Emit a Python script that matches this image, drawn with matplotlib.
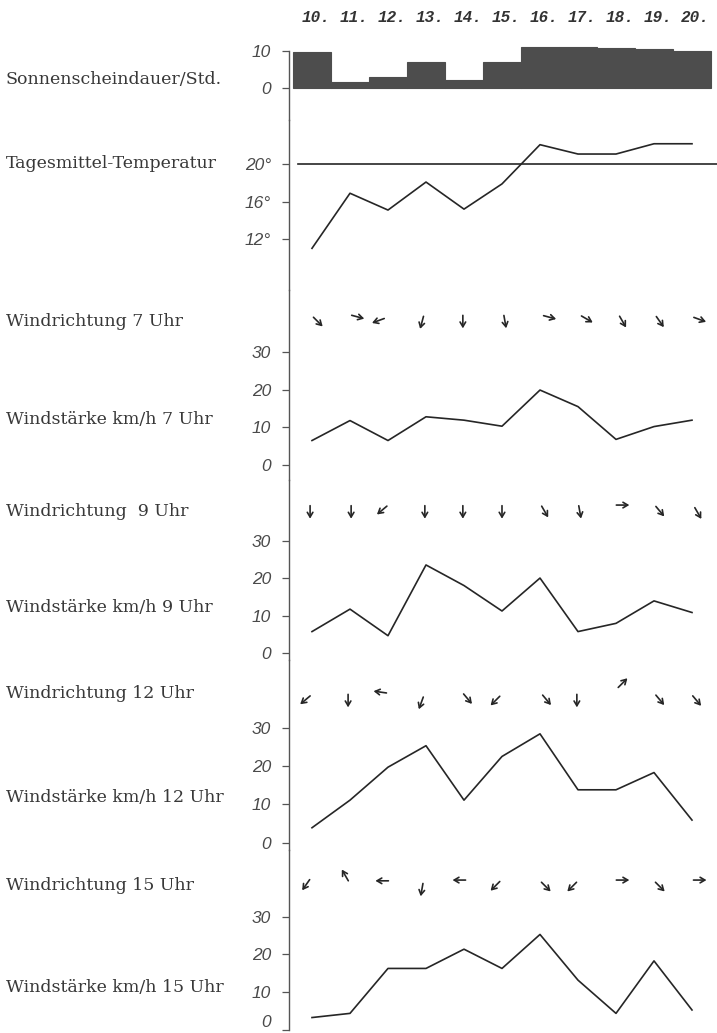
import numpy as np
import matplotlib
matplotlib.use("Agg")
import matplotlib.pyplot as plt
from matplotlib.transforms import ScaledTranslation

# ---------------- data ----------------
days = [10, 11, 12, 13, 14, 15, 16, 17, 18, 19, 20]
day_labels = ["10.", "11.", "12.", "13.", "14.", "15.", "16.", "17.", "18.", "19.", "20."]

sunshine_hours = [9.8, 1.8, 2.9, 7.0, 2.2, 7.0, 11.2, 11.0, 10.8, 10.6, 9.9]
mean_temp = [11.0, 16.9, 15.1, 18.1, 15.2, 17.9, 22.1, 21.1, 21.1, 22.2, 22.2]

wind_7 = [6.5, 11.8, 6.5, 12.8, 11.9, 10.3, 19.9, 15.5, 6.8, 10.2, 11.9]
wind_9 = [5.8, 11.8, 4.7, 23.6, 18.1, 11.3, 20.1, 5.8, 8.0, 14.0, 10.9]
wind_12 = [3.9, 11.1, 19.7, 25.3, 11.1, 22.5, 28.4, 13.8, 13.8, 18.3, 5.9]
wind_15 = [3.3, 4.4, 16.3, 16.3, 21.4, 16.3, 25.3, 13.2, 4.4, 18.3, 5.3]

# wind direction arrows: x (day), y (km/h scale level), direction the arrow points (deg, 0=east, 90=north)
dir7_x = [10.16, 11.21, 11.74, 12.89, 13.97, 15.08, 16.26, 17.24, 18.18, 19.16, 20.21]
dir7_y = [38.0, 39.3, 38.3, 37.8, 38.0, 38.0, 39.2, 38.7, 38.0, 38.0, 38.6]
dir7_a = [-45, -15, -160, -105, -90, -80, -15, -30, -60, -55, -20]

dir9_x = [9.95, 11.03, 11.84, 12.97, 13.97, 15.00, 16.13, 17.05, 18.18, 19.16, 20.16]
dir9_y = [37.7, 37.7, 38.2, 37.7, 37.7, 37.7, 37.8, 37.7, 39.6, 37.9, 37.4]
dir9_a = [-90, -90, -140, -90, -90, -90, -60, -80, 0, -50, -60]

dir12_x = [9.82, 10.95, 11.79, 12.87, 14.10, 14.82, 16.18, 16.97, 18.18, 19.16, 20.13]
dir12_y = [37.2, 37.0, 39.3, 36.4, 37.5, 37.0, 37.2, 37.0, 41.7, 37.2, 37.0]
dir12_a = [-140, -90, 172, -110, -50, -135, -50, -90, 45, -50, -50]

dir15_x = [9.84, 10.87, 11.84, 12.89, 13.87, 14.82, 16.16, 16.84, 18.18, 19.16, 20.21]
dir15_y = [38.4, 41.0, 39.5, 37.1, 39.7, 38.1, 37.9, 37.9, 39.7, 37.9, 39.7]
dir15_a = [-125, 120, 180, -100, 180, -135, -45, -135, 0, -45, 0]

row_labels = ["Sonnenscheindauer/Std.", "Tagesmittel-Temperatur",
              "Windrichtung 7 Uhr", "Windstärke km/h 7 Uhr",
              "Windrichtung  9 Uhr", "Windstärke km/h 9 Uhr",
              "Windrichtung 12 Uhr", "Windstärke km/h 12 Uhr",
              "Windrichtung 15 Uhr", "Windstärke km/h 15 Uhr"]

sun_ticks = [0, 10]
sun_ticklabels = ["0", "10"]
temp_ticks = [12, 16, 20]
temp_ticklabels = ["12°", "16°", "20°"]
wind_ticks = [0, 10, 20, 30]
wind_ticklabels = ["0", "10", "20", "30"]

# ---------------- layout ----------------
W, H = 717, 1033
DPI = 100
fig = plt.figure(figsize=(W / DPI, H / DPI), dpi=DPI)
fig.patch.set_facecolor("white")

INK = "#262626"
TEXT = "#383838"
X0, X1 = 289, 717
XL = (9.395, 20.658)

label_font = dict(family="DejaVu Serif", size=12.5, color=TEXT)
tick_font = dict(family=["Liberation Sans Narrow", "Liberation Sans"], style="italic", size=12.5, color="#4a4a4a")


def panel(top, bot, v_hi, p_hi, v_lo, p_lo, ticks, ticklabels):
    scale = (p_lo - p_hi) / (v_hi - v_lo)
    ymax = v_hi + (p_hi - top) / scale
    ymin = v_lo - (bot - p_lo) / scale
    ax = fig.add_axes([X0 / W, 1 - bot / H, (X1 - X0) / W, (bot - top) / H])
    ax.set_xlim(*XL)
    ax.set_ylim(ymin, ymax)
    ax.patch.set_alpha(0)
    for s in ["top", "right", "bottom"]:
        ax.spines[s].set_visible(False)
    ax.spines["left"].set_color("#555555")
    ax.spines["left"].set_linewidth(1.0)
    ax.set_xticks([])
    ax.set_yticks(ticks)
    ax.set_yticklabels(ticklabels, **tick_font)
    ax.tick_params(axis="y", direction="out", length=5, width=0.9, color="#555555", pad=8)
    return ax


def arrows(ax, xs, ys, angs, L=13):
    for x, y, a in zip(xs, ys, angs):
        dx = L / 2 * np.cos(np.radians(a)) / DPI
        dy = L / 2 * np.sin(np.radians(a)) / DPI
        head = ax.transData + ScaledTranslation(dx, dy, fig.dpi_scale_trans)
        tail = ax.transData + ScaledTranslation(-dx, -dy, fig.dpi_scale_trans)
        ax.annotate("", xy=(x, y), xycoords=head, xytext=(x, y), textcoords=tail,
                    arrowprops=dict(arrowstyle="->,head_length=0.34,head_width=0.2",
                                    lw=1.2, color=INK, shrinkA=0, shrinkB=0),
                    annotation_clip=False)


# sunshine
ax_s = panel(51, 120, 10, 51, 0, 88.3, sun_ticks, sun_ticklabels)
ax_s.bar(days, sunshine_hours, width=1.0, color="#4d4d4d", edgecolor="#4d4d4d",
         linewidth=0.8, clip_on=False)

# temperature
ax_t = panel(120, 290, 20, 164.3, 12, 239.0, temp_ticks, temp_ticklabels)
ax_t.axhline(20, xmin=(298 - X0) / (X1 - X0), xmax=1, color=INK, lw=1.2)
ax_t.plot(days, mean_temp, color=INK, lw=1.2, clip_on=False)

# wind panels
specs = [
    (290, 480, 352.0, 465.0, wind_7, dir7_x, dir7_y, dir7_a),
    (480, 660, 541.0, 653.3, wind_9, dir9_x, dir9_y, dir9_a),
    (660, 850, 727.7, 842.7, wind_12, dir12_x, dir12_y, dir12_a),
    (850, 1030, 916.7, 1030.0, wind_15, dir15_x, dir15_y, dir15_a),
]
wind_axes = []
for top, bot, p30, p0, speed, ax_x, ax_y, ax_a in specs:
    ax = panel(top, bot, 30, p30, 0, p0, wind_ticks, wind_ticklabels)
    ax.plot(days, speed, color=INK, lw=1.2, clip_on=False)
    arrows(ax, ax_x, ax_y, ax_a)
    wind_axes.append(ax)

# last "0" label sits above its tick so it is not cut at the bottom edge
wind_axes[-1].get_yticklabels()[0].set_verticalalignment("bottom")

# day labels across the top
ax_s.xaxis.set_ticks_position("top")
ax_s.set_xticks([d + 0.1 for d in days])
ax_s.set_xticklabels(day_labels, family="Liberation Mono", style="italic", weight="bold",
                     size=11.5, color="#333333")
ax_s.tick_params(axis="x", length=0, pad=19)

# left row labels
label_y = [79, 163, 322, 420, 512, 607, 693, 797, 885, 987]
for txt, py in zip(row_labels, label_y):
    fig.text(6 / W, 1 - py / H, txt, ha="left", va="center", **label_font)

fig.savefig("out.png", dpi=DPI, facecolor="white")
